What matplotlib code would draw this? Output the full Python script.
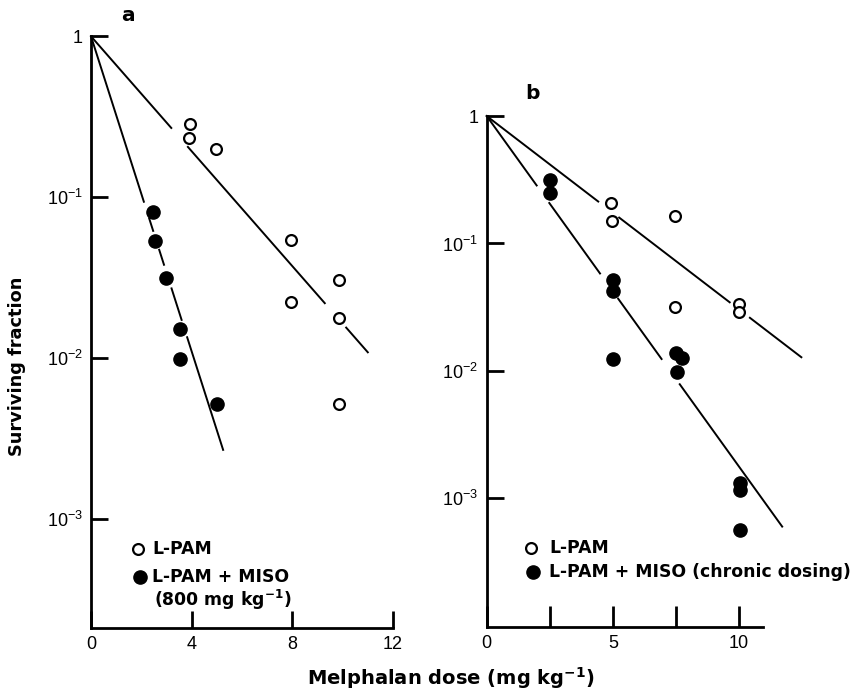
import numpy as np
import matplotlib
matplotlib.use('Agg')
import matplotlib.pyplot as plt

plt.rcParams['font.family'] = ['Liberation Sans', 'DejaVu Sans']
plt.rcParams['mathtext.fontset'] = 'custom'
plt.rcParams['mathtext.rm'] = 'Liberation Sans'
plt.rcParams['mathtext.bf'] = 'DejaVu Sans:bold'

BOLD = ['DejaVu Sans']

# panel a: L-PAM alone
a_open_x = [3.94, 3.90, 4.97, 7.94, 7.94, 9.86, 9.86, 9.86]
a_open_y = [0.286, 0.232, 0.200, 0.054, 0.0225, 0.0305, 0.0178, 0.00524]
# panel a: L-PAM + MISO (800 mg/kg)
a_fill_x = [2.48, 2.55, 2.99, 3.52, 3.52, 5.02]
a_fill_y = [0.0806, 0.0533, 0.0317, 0.0152, 0.00987, 0.00517]

# panel b: L-PAM alone
b_open_x = [4.92, 4.95, 7.48, 7.48, 10.0, 10.0]
b_open_y = [0.206, 0.149, 0.165, 0.0316, 0.0332, 0.0292]
# panel b: L-PAM + MISO (chronic dosing)
b_fill_x = [2.51, 2.51, 4.99, 4.99, 4.99, 7.49, 7.72, 7.55, 10.03, 10.03, 10.03]
b_fill_y = [0.316, 0.251, 0.0513, 0.042, 0.0125, 0.0137, 0.0127, 0.0098,
            0.00132, 0.00117, 0.000565]

# fitted lines: run from (0, 1) to (x_end, y_end), drawn in pieces
a_open_fit = (11.0, 0.0109)
a_open_pieces = [(0, 3.19), (3.85, 9.29), (10.14, 11.0)]
a_fill_fit = (5.25, 0.0027)
a_fill_pieces = [(0, 2.1), (2.31, 2.47), (2.71, 2.9), (3.2, 3.6), (3.82, 5.25)]
b_open_fit = (12.47, 0.0128)
b_open_pieces = [(0, 4.42), (5.25, 9.63), (10.43, 12.47)]
b_fill_fit = (11.71, 0.0006)
b_fill_pieces = [(0, 1.98), (2.48, 4.49), (5.21, 6.93), (7.65, 11.71)]


def draw_fit(ax, fit, pieces):
    x_end, y_end = fit
    for x0, x1 in pieces:
        xs = np.array([x0, x1])
        ys = y_end ** (xs / x_end)
        ax.plot(xs, ys, color='black', lw=1.4, clip_on=False, zorder=2)


def style_axes(ax):
    ax.set_yscale('log')
    for s in ['top', 'right']:
        ax.spines[s].set_visible(False)
    for s in ['left', 'bottom']:
        ax.spines[s].set_linewidth(2.0)
    ax.minorticks_off()
    ax.tick_params(which='major', direction='in', length=12, width=2.0,
                   labelsize=13, pad=6)
    ax.set_yticks([1, 0.1, 0.01, 0.001])
    ax.set_yticklabels(['1', r'$\mathregular{10^{-1}}$',
                        r'$\mathregular{10^{-2}}$', r'$\mathregular{10^{-3}}$'])


def legend_mark(ax, x, y, filled):
    if filled:
        ax.plot([x], [y], 'o', ms=9.5, color='black', transform=ax.transAxes,
                clip_on=False)
    else:
        ax.plot([x], [y], 'o', ms=7.8, mfc='white', mec='black', mew=1.6,
                transform=ax.transAxes, clip_on=False)


def bold_text(ax, x, y, s, size=12.4):
    ax.text(x, y, s, transform=ax.transAxes, fontsize=size, family=BOLD,
            fontweight='bold', va='center')


fig = plt.figure(figsize=(8.53, 6.92), dpi=100)
ax_a = fig.add_axes([0.1067, 0.0925, 0.354, 0.855])
ax_b = fig.add_axes([0.5706, 0.0939, 0.3239, 0.7384])

# panel a
style_axes(ax_a)
ax_a.set_xlim(0, 12)
ax_a.set_ylim(10 ** -3.675, 1)
ax_a.set_xticks([0, 4, 8, 12])
ax_a.set_xticklabels(['0', '4', '8', '12'])
draw_fit(ax_a, a_open_fit, a_open_pieces)
draw_fit(ax_a, a_fill_fit, a_fill_pieces)
ax_a.plot(a_open_x, a_open_y, 'o', ms=7.8, mfc='white', mec='black', mew=1.6,
          ls='none', zorder=3)
ax_a.plot(a_fill_x, a_fill_y, 'o', ms=9.5, color='black', ls='none', zorder=3)
legend_mark(ax_a, 0.156, 0.1335, False)
legend_mark(ax_a, 0.162, 0.0862, True)
bold_text(ax_a, 0.203, 0.1335, 'L-PAM')
bold_text(ax_a, 0.203, 0.0862, 'L-PAM + MISO')
bold_text(ax_a, 0.207, 0.0473, r'(800 mg kg$\mathbf{^{-1}}$)')

# panel b
style_axes(ax_b)
ax_b.set_xlim(0, 10.95)
ax_b.set_ylim(10 ** -4.01, 1)
ax_b.set_xticks([0, 2.5, 5, 7.5, 10])
ax_b.set_xticklabels(['0', '', '5', '', '10'])
ax_b.tick_params(axis='x', length=15)
draw_fit(ax_b, b_open_fit, b_open_pieces)
draw_fit(ax_b, b_fill_fit, b_fill_pieces)
ax_b.plot(b_open_x, b_open_y, 'o', ms=7.8, mfc='white', mec='black', mew=1.6,
          ls='none', zorder=3, clip_on=False)
ax_b.plot(b_fill_x, b_fill_y, 'o', ms=9.5, color='black', ls='none', zorder=3,
          clip_on=False)
legend_mark(ax_b, 0.159, 0.1546, False)
legend_mark(ax_b, 0.168, 0.1076, True)
bold_text(ax_b, 0.227, 0.1546, 'L-PAM')
bold_text(ax_b, 0.227, 0.1076, 'L-PAM + MISO (chronic dosing)')

fig.text(0.150, 0.977, 'a', fontsize=14.5, family=BOLD, fontweight='bold',
         ha='center', va='center')
fig.text(0.6245, 0.865, 'b', fontsize=14.5, family=BOLD, fontweight='bold',
         ha='center', va='center')
fig.text(0.0196, 0.47, 'Surviving fraction', rotation=90, fontsize=12.8,
         family=BOLD, fontweight='bold', ha='center', va='center')
fig.text(0.529, 0.02, r'Melphalan dose (mg kg$\mathbf{^{-1}}$)', fontsize=14,
         family=BOLD, fontweight='bold', ha='center', va='center')

fig.savefig('out.png', dpi=100)
